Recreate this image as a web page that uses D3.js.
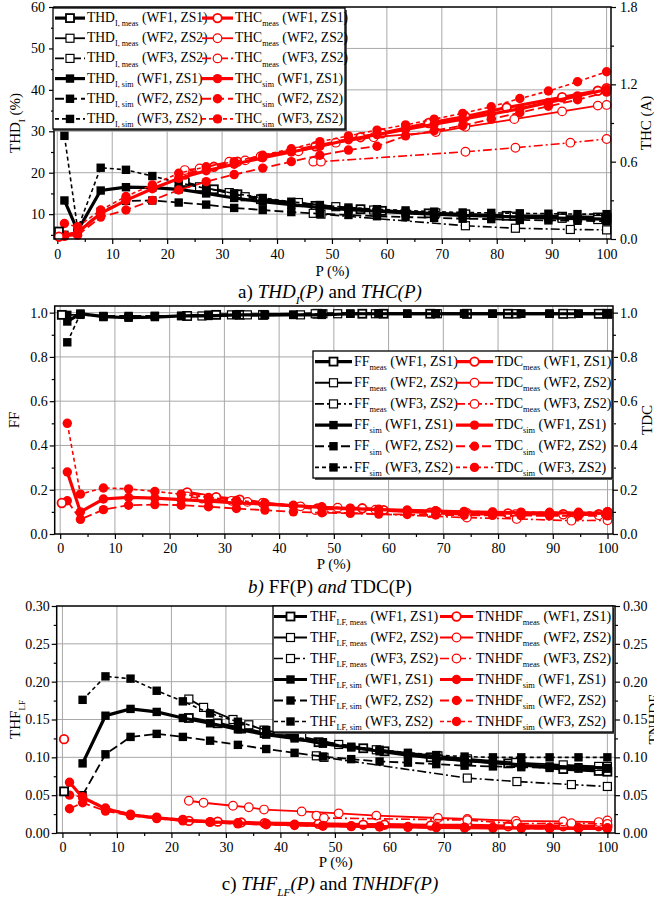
<!DOCTYPE html>
<html>
<head>
<meta charset="utf-8">
<title>THD, FF, THF vs P</title>
<script src="https://d3js.org/d3.v7.min.js"></script>
<style>
  body { margin: 0; background: #fff; }
  svg, svg text { font-family: "Liberation Serif", "Times New Roman", Times, "DejaVu Serif", serif; }
</style>
</head>
<body>
<svg width="654" height="899"></svg>
<script>
// operating points, P (%)
const simX   = [1.3, 3.7, 7.9, 12.5, 17.3, 22.1, 27.1, 32.2, 37.4, 42.6, 47.8, 53.0, 58.2, 63.4, 68.6, 73.8, 79.0, 84.2, 89.4, 94.7, 100];
const measX1 = [23.2, 28.5, 32.8, 37.1, 47.0, 55.2, 59.1, 67.6, 74.3, 81.8, 91.9, 98.4, 100];
const measX2 = [23.2, 25.9, 31.3, 34.2, 37.0, 43.9, 50.7, 57.6, 68.9, 74.3, 83.2, 91.9, 98.4, 100];
const measX3 = [46.6, 48.0, 74.3, 83.4, 93.4, 100];
const noLoadX = [0.3];
const waveforms = ["WF1, ZS1", "WF2, ZS2", "WF3, ZS2"];

// a) THD_I (%) and THC (A)
const thdMeas1 = [17.5, 16.0, 14.8, 13.6, 12.0, 11.2, 10.8, 10.2, 9.9, 9.6, 9.4, 9.2, 9.1];
const thdMeas2 = [17.8, 16.6, 15.2, 14.2, 13.6, 12.8, 11.8, 11.0, 10.3, 10.0, 9.5, 9.0, 8.7, 8.6];
const thdMeas3 = [10.2, 10.0, 7.2, 6.6, 6.3, 6.2];
const thdSim1 = [13.3, 6.0, 15.7, 16.5, 16.4, 16.0, 15.0, 13.9, 13.0, 12.3, 11.6, 11.1, 10.7, 10.3, 10.0, 9.7, 9.5, 9.3, 9.1, 8.9, 8.8];
const thdSim2 = [5.0, 5.5, 10.6, 13.2, 13.3, 12.8, 12.3, 11.5, 11.0, 10.5, 10.1, 9.8, 9.5, 9.3, 9.1, 8.9, 8.8, 8.6, 8.5, 8.4, 8.3];
const thdSim3 = [28.9, 6.5, 21.2, 20.7, 19.2, 17.6, 16.2, 15.0, 13.9, 13.0, 12.2, 11.6, 11.2, 10.9, 10.6, 10.4, 10.3, 10.2, 10.1, 10.0, 10.0];
const thcMeas1 = [0.50, 0.56, 0.60, 0.64, 0.72, 0.79, 0.82, 0.90, 0.95, 1.02, 1.10, 1.15, 1.17];
const thcMeas2 = [0.535, 0.548, 0.60, 0.61, 0.64, 0.68, 0.747, 0.79, 0.83, 0.87, 0.93, 0.99, 1.035, 1.04];
const thcMeas3 = [0.60, 0.60, 0.677, 0.708, 0.747, 0.776];
const thcSim1 = [0.03, 0.05, 0.20, 0.30, 0.39, 0.47, 0.53, 0.58, 0.63, 0.675, 0.72, 0.77, 0.81, 0.85, 0.89, 0.93, 0.97, 1.01, 1.06, 1.11, 1.16];
const thcSim2 = [0.02, 0.03, 0.17, 0.225, 0.30, 0.38, 0.445, 0.50, 0.55, 0.60, 0.65, 0.69, 0.72, 0.80, 0.84, 0.88, 0.93, 0.98, 1.03, 1.08, 1.14];
const thcSim3 = [0.12, 0.095, 0.225, 0.33, 0.42, 0.51, 0.56, 0.60, 0.65, 0.70, 0.755, 0.80, 0.845, 0.885, 0.93, 0.975, 1.026, 1.09, 1.148, 1.22, 1.298];
const thdNoLoad = [5.8], thcNoLoad = [0.018];

// b) FF and TDC
const ffMeas1 = [0.985, 0.99, 0.99, 0.99, 0.995, 0.995, 0.995, 0.995, 0.995, 0.995, 0.995, 0.995, 0.995];
const ffMeas2 = [0.985, 0.985, 0.99, 0.99, 0.99, 0.99, 0.995, 0.995, 0.995, 0.995, 0.995, 0.995, 0.995, 0.995];
const ffMeas3 = [0.995, 0.995, 0.995, 0.995, 0.995, 0.995];
const ffSim1 = [0.96, 0.995, 0.982, 0.977, 0.98, 0.985, 0.985, 0.99, 0.99, 0.99, 0.99, 0.995, 0.995, 0.995, 0.995, 0.995, 0.995, 0.995, 0.995, 0.995, 0.995];
const ffSim2 = [0.99, 0.99, 0.985, 0.985, 0.985, 0.985, 0.99, 0.99, 0.99, 0.99, 0.99, 0.995, 0.995, 0.995, 0.995, 0.995, 0.995, 0.995, 0.995, 0.995, 0.995];
const ffSim3 = [0.866, 0.995, 0.98, 0.98, 0.985, 0.985, 0.99, 0.99, 0.99, 0.99, 0.995, 0.995, 0.995, 0.995, 0.995, 0.995, 0.995, 0.995, 0.995, 0.995, 0.995];
const tdcMeas1 = [0.188, 0.166, 0.155, 0.14, 0.115, 0.116, 0.108, 0.096, 0.09, 0.093, 0.09, 0.09, 0.10];
const tdcMeas2 = [0.17, 0.16, 0.15, 0.145, 0.14, 0.125, 0.119, 0.11, 0.10, 0.095, 0.09, 0.088, 0.085, 0.085];
const tdcMeas3 = [0.108, 0.10, 0.074, 0.068, 0.06, 0.062];
const tdcSim1 = [0.28, 0.10, 0.158, 0.165, 0.162, 0.155, 0.148, 0.14, 0.135, 0.128, 0.12, 0.115, 0.11, 0.107, 0.104, 0.10, 0.098, 0.096, 0.095, 0.094, 0.093];
const tdcSim2 = [0.15, 0.066, 0.11, 0.13, 0.133, 0.13, 0.123, 0.115, 0.108, 0.10, 0.096, 0.093, 0.09, 0.088, 0.086, 0.085, 0.084, 0.083, 0.082, 0.082, 0.082];
const tdcSim3 = [0.50, 0.18, 0.208, 0.204, 0.192, 0.18, 0.165, 0.152, 0.14, 0.13, 0.123, 0.117, 0.112, 0.108, 0.105, 0.102, 0.10, 0.099, 0.098, 0.098, 0.10];
const ffNoLoad = [0.99], tdcNoLoad = [0.14];

// c) THF_LF and TNHDF
const thfMeas1 = [0.152, 0.145, 0.138, 0.132, 0.12, 0.112, 0.108, 0.10, 0.096, 0.092, 0.0845, 0.082, 0.081];
const thfMeas2 = [0.177, 0.166, 0.15, 0.143, 0.136, 0.127, 0.117, 0.11, 0.102, 0.098, 0.093, 0.09, 0.088, 0.088];
const thfMeas3 = [0.102, 0.10, 0.0726, 0.068, 0.064, 0.0615];
const thfSim1 = [null, 0.092, 0.155, 0.164, 0.160, 0.152, 0.145, 0.137, 0.130, 0.125, 0.118, 0.113, 0.108, 0.103, 0.099, 0.096, 0.093, 0.090, 0.088, 0.087, 0.086];
const thfSim2 = [null, 0.050, 0.104, 0.127, 0.131, 0.127, 0.122, 0.1165, 0.111, 0.106, 0.101, 0.0976, 0.0945, 0.093, 0.091, 0.089, 0.088, 0.087, 0.086, 0.085, 0.085];
const thfSim3 = [null, 0.176, 0.207, 0.204, 0.188, 0.174, 0.158, 0.147, 0.136, 0.127, 0.12, 0.114, 0.11, 0.106, 0.103, 0.101, 0.10, 0.10, 0.10, 0.10, 0.10];
const tnhdfMeas1 = [0.016, 0.015, 0.014, 0.013, 0.012, 0.011, 0.011, 0.010, 0.010, 0.009, 0.009, 0.009, 0.009];
const tnhdfMeas2 = [0.0426, 0.040, 0.036, 0.034, 0.031, 0.0285, 0.026, 0.023, 0.0198, 0.0185, 0.016, 0.0153, 0.0145, 0.0167];
const tnhdfMeas3 = [0.023, 0.0198, 0.017, 0.0123, 0.013, 0.012];
const tnhdfSim1 = [0.067, 0.047, 0.032, 0.024, 0.020, 0.017, 0.0146, 0.0132, 0.012, 0.011, 0.0097, 0.009, 0.0085, 0.008, 0.0075, 0.007, 0.0068, 0.0066, 0.0064, 0.0062, 0.006];
const tnhdfSim2 = [0.032, 0.040, 0.029, 0.023, 0.019, 0.016, 0.014, 0.012, 0.011, 0.010, 0.009, 0.0085, 0.008, 0.0075, 0.007, 0.0066, 0.0063, 0.006, 0.0058, 0.0056, 0.0055];
const tnhdfSim3 = [0.050, 0.048, 0.033, 0.025, 0.021, 0.018, 0.015, 0.0135, 0.0125, 0.0115, 0.010, 0.0095, 0.009, 0.0085, 0.008, 0.0078, 0.0076, 0.0074, 0.0072, 0.007, 0.007];
const thfNoLoad = [0.055], tnhdfNoLoad = [0.124];

const BLACK = "#000", RED = "#ff0000", GRID = "#a8a8a8";
const SERIF = "'Liberation Serif', 'Times New Roman', Times, 'DejaVu Serif', serif";
// line style per waveform
const wfStyle = [
  { w: 3.2, measDash: null, simDash: null, mk: 1.8 },
  { w: 1.8, measDash: null, simDash: "9,4", mk: 1.2 },
  { w: 1.6, measDash: "9,3,2,3", simDash: "4,3", mk: 1.2 }
];

const svg = d3.select("svg").attr("font-family", SERIF);

// text made of pieces, some subscript / italic
function richText(sel, parts, size) {
  let down = false;
  sel.attr("font-family", SERIF);
  parts.forEach(p => {
    const ts = sel.append("tspan").text(p.t);
    if (p.it) ts.attr("font-style", "italic");
    if (p.sub) ts.attr("font-size", size * 0.6);
    if (p.sub && !down) { ts.attr("dy", size * 0.3); down = true; }
    else if (!p.sub && down) { ts.attr("dy", -size * 0.3); down = false; }
  });
}

function marker(g, kind, cx, cy, wf) {
  const sw = wfStyle[wf].mk;
  if (kind === "sq") {
    g.append("rect").attr("x", cx - 4).attr("y", cy - 4).attr("width", 8).attr("height", 8)
      .attr("fill", "#fff").attr("stroke", BLACK).attr("stroke-width", sw);
  } else if (kind === "fsq") {
    g.append("rect").attr("x", cx - 4.2).attr("y", cy - 4.2).attr("width", 8.4).attr("height", 8.4)
      .attr("fill", BLACK);
  } else if (kind === "ci") {
    g.append("circle").attr("cx", cx).attr("cy", cy).attr("r", 4.3)
      .attr("fill", "#fff").attr("stroke", RED).attr("stroke-width", sw);
  } else {
    g.append("circle").attr("cx", cx).attr("cy", cy).attr("r", 4.7).attr("fill", RED);
  }
}

function drawPanel(p) {
  const g = svg.append("g");
  const x = d3.scaleLinear().domain(p.xDom).range([p.l, p.r]);
  const yL = d3.scaleLinear().domain(p.yLDom).range([p.b, p.t]);
  const yR = d3.scaleLinear().domain(p.yRDom).range([p.b, p.t]);

  // grid
  g.append("g").selectAll("line").data(d3.range(0, 101, 10)).join("line")
    .attr("x1", d => x(d)).attr("x2", d => x(d)).attr("y1", p.t).attr("y2", p.b)
    .attr("stroke", GRID).attr("stroke-width", 1);
  g.append("g").selectAll("line").data(p.gridY).join("line")
    .attr("x1", p.l).attr("x2", p.r).attr("y1", d => yL(d)).attr("y2", d => yL(d))
    .attr("stroke", GRID).attr("stroke-width", 1);

  // axes
  const fs = 14;
  const ax = (sel, axis) => {
    sel.call(axis);
    sel.attr("font-family", SERIF).attr("font-size", fs);
    sel.select(".domain").remove();
    sel.selectAll("text").attr("font-size", fs).attr("font-family", SERIF).attr("fill", BLACK);
    sel.selectAll("line").attr("stroke-width", 1.2);
  };
  ax(g.append("g").attr("transform", `translate(0,${p.b})`),
     d3.axisBottom(x).tickValues(d3.range(0, 101, 10)).tickSize(5).tickPadding(p.xPad).tickFormat(d3.format("d")));
  ax(g.append("g").attr("transform", `translate(0,${p.b})`),
     d3.axisBottom(x).tickValues(d3.range(5, 100, 10)).tickSize(3).tickFormat(""));
  ax(g.append("g").attr("transform", `translate(${p.l},0)`),
     d3.axisLeft(yL).tickValues(p.ticksL).tickSize(5).tickPadding(p.lPad).tickFormat(d3.format(p.fmtL)));
  ax(g.append("g").attr("transform", `translate(${p.l},0)`),
     d3.axisLeft(yL).tickValues(p.minorL).tickSize(3).tickFormat(""));
  ax(g.append("g").attr("transform", `translate(${p.r},0)`),
     d3.axisRight(yR).tickValues(p.ticksR).tickSize(5).tickPadding(p.rPad).tickFormat(d3.format(p.fmtR)));
  ax(g.append("g").attr("transform", `translate(${p.r},0)`),
     d3.axisRight(yR).tickValues(p.minorR).tickSize(3).tickFormat(""));

  // series
  const line = (ys) => d3.line().defined(d => d[1] != null).x(d => x(d[0])).y(d => ys(d[1]));
  const measX = [measX1, measX2, measX3];
  const drawSeries = (xs, vals, ys, color, dash, wf, kind) => {
    const pts = xs.map((xv, i) => [xv, vals[i]]);
    g.append("path").datum(pts).attr("d", line(ys)).attr("fill", "none")
      .attr("stroke", color).attr("stroke-width", wfStyle[wf].w)
      .attr("stroke-dasharray", dash);
    const mg = g.append("g");
    pts.filter(d => d[1] != null).forEach(d => marker(mg, kind, x(d[0]), ys(d[1]), wf));
  };
  [0, 1, 2].forEach(i => drawSeries(measX[i], p.leftMeas[i], yL, BLACK, wfStyle[i].measDash, i, "sq"));
  [0, 1, 2].forEach(i => drawSeries(simX, p.leftSim[i], yL, BLACK, wfStyle[i].simDash, i, "fsq"));
  [0, 1, 2].forEach(i => drawSeries(measX[i], p.rightMeas[i], yR, RED, wfStyle[i].measDash, i, "ci"));
  [0, 1, 2].forEach(i => drawSeries(simX, p.rightSim[i], yR, RED, wfStyle[i].simDash, i, "fci"));
  marker(g, "sq", x(noLoadX[0]), yL(p.leftNoLoad[0]), 0);
  marker(g, "ci", x(noLoadX[0]), yR(p.rightNoLoad[0]), 0);

  // frame
  g.append("rect").attr("x", p.l).attr("y", p.t).attr("width", p.r - p.l).attr("height", p.b - p.t)
    .attr("fill", "none").attr("stroke", BLACK).attr("stroke-width", 1.5);

  // legend
  const L = p.leg;
  const lg = g.append("g");
  lg.append("rect").attr("x", L.x0 + 2).attr("y", L.y0 + 2).attr("width", L.x1 - L.x0).attr("height", L.y1 - L.y0)
    .attr("fill", "#555");
  lg.append("rect").attr("x", L.x0).attr("y", L.y0).attr("width", L.x1 - L.x0).attr("height", L.y1 - L.y0)
    .attr("fill", "#fff").attr("stroke", BLACK).attr("stroke-width", 1.3);
  const rowH = (L.y1 - L.y0) / 6;
  const entries = [];
  [0, 1, 2].forEach(i => entries.push({ col: 0, row: i, color: BLACK, dash: wfStyle[i].measDash, wf: i, kind: "sq", name: p.names[0], sub: p.subs[0] }));
  [0, 1, 2].forEach(i => entries.push({ col: 0, row: 3 + i, color: BLACK, dash: wfStyle[i].simDash, wf: i, kind: "fsq", name: p.names[0], sub: p.subs[1] }));
  [0, 1, 2].forEach(i => entries.push({ col: 1, row: i, color: RED, dash: wfStyle[i].measDash, wf: i, kind: "ci", name: p.names[1], sub: p.subs[2] }));
  [0, 1, 2].forEach(i => entries.push({ col: 1, row: 3 + i, color: RED, dash: wfStyle[i].simDash, wf: i, kind: "fci", name: p.names[1], sub: p.subs[3] }));
  entries.forEach(e => {
    const cy = L.y0 + rowH * (e.row + 0.5);
    const sx = L.cols[e.col];
    lg.append("line").attr("x1", sx[0]).attr("x2", sx[1]).attr("y1", cy).attr("y2", cy)
      .attr("stroke", e.color).attr("stroke-width", wfStyle[e.wf].w).attr("stroke-dasharray", e.dash);
    marker(lg, e.kind, (sx[0] + sx[1]) / 2, cy, e.wf);
    const t = lg.append("text").attr("x", sx[2]).attr("y", cy + L.fs * 0.3).attr("font-size", L.fs);
    richText(t, [{ t: e.name }, { t: e.sub, sub: true }, { t: " (" + waveforms[e.wf] + ")" }], L.fs);
  });

  // axis titles
  g.append("text").attr("x", (p.l + p.r) / 2).attr("y", p.xTitleY).attr("text-anchor", "middle")
    .attr("font-family", SERIF).attr("font-size", 15).text("P (%)");
  const tl = g.append("text").attr("transform", `translate(${p.lTitleX},${(p.t + p.b) / 2}) rotate(-90)`)
    .attr("text-anchor", "middle").attr("font-size", 15);
  richText(tl, p.lTitle, 15);
  const tr = g.append("text").attr("transform", `translate(${p.rTitleX},${(p.t + p.b) / 2}) rotate(-90)`)
    .attr("text-anchor", "middle").attr("font-size", 15);
  richText(tr, p.rTitle, 15);

  // caption
  const cap = g.append("text").attr("x", 330).attr("y", p.capY).attr("text-anchor", "middle").attr("font-size", 19);
  richText(cap, p.caption, 19);
}

drawPanel({
  l: 54, r: 611, t: 7, b: 239, xDom: [-0.6, 100.8], yLDom: [4, 60], yRDom: [0, 1.8],
  gridY: [10, 20, 30, 40, 50], ticksL: [10, 20, 30, 40, 50, 60], minorL: [5, 15, 25, 35, 45, 55],
  ticksR: [0, 0.6, 1.2, 1.8], minorR: [0.3, 0.9, 1.5], fmtL: "d", fmtR: ".1f",
  xPad: 5, lPad: 4, rPad: 4,
  leftMeas: [thdMeas1, thdMeas2, thdMeas3], leftSim: [thdSim1, thdSim2, thdSim3],
  rightMeas: [thcMeas1, thcMeas2, thcMeas3], rightSim: [thcSim1, thcSim2, thcSim3],
  leftNoLoad: thdNoLoad, rightNoLoad: thcNoLoad,
  names: ["THD", "THC"], subs: ["I, meas", "I, sim", "meas", "sim"],
  leg: { x0: 53, y0: 8, x1: 345, y1: 129, fs: 13.6, cols: [[55, 85, 87], [202, 233, 235]] },
  xTitleY: 276, lTitleX: 20, rTitleX: 651,
  lTitle: [{ t: "THD" }, { t: "I", sub: true }, { t: " (%)" }], rTitle: [{ t: "THC (A)" }],
  capY: 298,
  caption: [{ t: "a) " }, { t: "THD", it: true }, { t: "I", it: true, sub: true }, { t: "(P)", it: true }, { t: " and " }, { t: "THC(P)", it: true }]
});

drawPanel({
  l: 54.7, r: 613, t: 306, b: 534, xDom: [-1, 101], yLDom: [0, 1.03], yRDom: [0, 1.03],
  gridY: [0.2, 0.4, 0.6, 0.8, 1.0], ticksL: [0, 0.2, 0.4, 0.6, 0.8, 1.0], minorL: [0.1, 0.3, 0.5, 0.7, 0.9],
  ticksR: [0, 0.2, 0.4, 0.6, 0.8, 1.0], minorR: [0.1, 0.3, 0.5, 0.7, 0.9], fmtL: ".1f", fmtR: ".1f",
  xPad: 4, lPad: 2, rPad: 2,
  leftMeas: [ffMeas1, ffMeas2, ffMeas3], leftSim: [ffSim1, ffSim2, ffSim3],
  rightMeas: [tdcMeas1, tdcMeas2, tdcMeas3], rightSim: [tdcSim1, tdcSim2, tdcSim3],
  leftNoLoad: ffNoLoad, rightNoLoad: tdcNoLoad,
  names: ["FF", "TDC"], subs: ["meas", "sim", "meas", "sim"],
  leg: { x0: 313, y0: 351, x1: 612, y1: 478, fs: 14, cols: [[315, 352, 354], [456, 493, 495]] },
  xTitleY: 569, lTitleX: 19, rTitleX: 652,
  lTitle: [{ t: "FF" }], rTitle: [{ t: "TDC" }],
  capY: 593,
  caption: [{ t: "b)", it: true }, { t: " FF(P) " }, { t: "and", it: true }, { t: " TDC(P)" }]
});

drawPanel({
  l: 56.7, r: 615, t: 606, b: 833, xDom: [-1.05, 101.4], yLDom: [0, 0.30], yRDom: [0, 0.30],
  gridY: [0.05, 0.10, 0.15, 0.20, 0.25], ticksL: [0, 0.05, 0.10, 0.15, 0.20, 0.25, 0.30],
  minorL: [0.025, 0.075, 0.125, 0.175, 0.225, 0.275],
  ticksR: [0, 0.05, 0.10, 0.15, 0.20, 0.25, 0.30], minorR: [0.025, 0.075, 0.125, 0.175, 0.225, 0.275],
  fmtL: ".2f", fmtR: ".2f",
  xPad: 4, lPad: 2, rPad: 3,
  leftMeas: [thfMeas1, thfMeas2, thfMeas3], leftSim: [thfSim1, thfSim2, thfSim3],
  rightMeas: [tnhdfMeas1, tnhdfMeas2, tnhdfMeas3], rightSim: [tnhdfSim1, tnhdfSim2, tnhdfSim3],
  leftNoLoad: thfNoLoad, rightNoLoad: tnhdfNoLoad,
  names: ["THF", "TNHDF"], subs: ["LF, meas", "LF, sim", "meas", "sim"],
  leg: { x0: 273, y0: 606, x1: 613, y1: 732, fs: 14, cols: [[274, 307, 310], [440, 473, 476]] },
  xTitleY: 867, lTitleX: 20, rTitleX: 659,
  lTitle: [{ t: "THF" }, { t: "LF", sub: true }], rTitle: [{ t: "TNHDF" }],
  capY: 890,
  caption: [{ t: "c) " }, { t: "THF", it: true }, { t: "LF", it: true, sub: true }, { t: "(P)", it: true }, { t: " and " }, { t: "TNHDF(P)", it: true }]
});
</script>
</body>
</html>
